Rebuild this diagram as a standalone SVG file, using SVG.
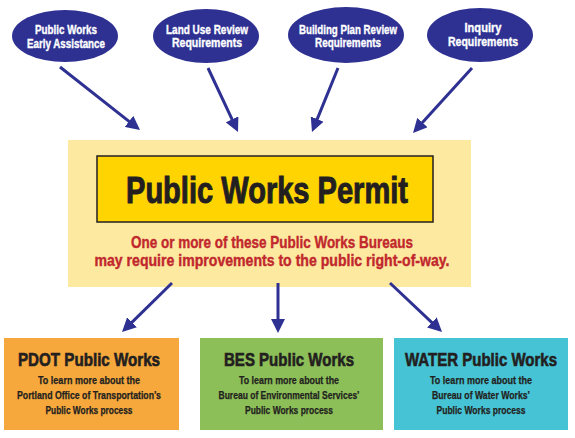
<svg xmlns="http://www.w3.org/2000/svg" width="575" height="438" viewBox="0 0 575 438">
<defs>
<style>
.ell{fill:#2e3192}
.et{fill:#fff;stroke:#fff;stroke-width:0.35px;font-family:"Liberation Sans Narrow","Liberation Sans",Arial,sans-serif;font-weight:bold;font-size:12px;text-anchor:middle}
.conn{stroke:#2e3192;stroke-width:3;fill:none;marker-end:url(#ah)}
.bt{fill:#231f20;stroke:#231f20;stroke-width:0.55px;font-family:"Liberation Sans Narrow","Liberation Sans",Arial,sans-serif;font-weight:bold;font-size:16px;text-anchor:middle}
.bs{fill:#231f20;stroke:#231f20;stroke-width:0.25px;font-family:"Liberation Sans Narrow","Liberation Sans",Arial,sans-serif;font-weight:bold;font-size:10.5px;text-anchor:middle}
.rt{fill:#c1272d;stroke:#c1272d;stroke-width:0.4px;font-family:"Liberation Sans Narrow","Liberation Sans",Arial,sans-serif;font-weight:bold;font-size:17px;text-anchor:middle}
</style>
<marker id="ah" markerWidth="14" markerHeight="14" refX="2" refY="7" orient="auto" markerUnits="userSpaceOnUse">
<path d="M0,0 L14,7 L0,14 z" fill="#2e3192"/>
</marker>
</defs>
<rect width="575" height="438" fill="#fff"/>
<g id="connectors">
<line class="conn" x1="60" y1="67" x2="130.6" y2="122.6"/>
<line class="conn" x1="208" y1="68" x2="232.9" y2="121.1"/>
<line class="conn" x1="338" y1="68" x2="316.5" y2="120.9"/>
<line class="conn" x1="472" y1="68" x2="421.1" y2="124.1"/>
</g>
<g id="permit">
<rect x="68" y="140" width="403" height="147" fill="#fde9a0"/>
<rect x="97" y="156" width="336" height="66" fill="#ffd400" stroke="#231f20" stroke-width="1.5"/>
<text x="267" y="203" fill="#231f20" stroke="#231f20" stroke-width="1" font-family="'Liberation Sans Narrow','Liberation Sans',Arial,sans-serif" font-weight="bold" font-size="36" text-anchor="middle" textLength="282" lengthAdjust="spacingAndGlyphs">Public Works Permit</text>
<text class="rt" x="272" y="248" textLength="282" lengthAdjust="spacingAndGlyphs">One or more of these Public Works Bureaus</text>
<text class="rt" x="272" y="266" textLength="355" lengthAdjust="spacingAndGlyphs">may require improvements to the public right-of-way.</text>
</g>
<g id="connectors-bottom">
<line class="conn" x1="172" y1="283" x2="130.6" y2="323.6"/>
<line class="conn" x1="278" y1="283" x2="278" y2="321"/>
<line class="conn" x1="390" y1="283" x2="433.3" y2="323.8"/>
</g>
<g id="n-early">
<ellipse class="ell" cx="65" cy="36" rx="53" ry="26"/>
<text class="et" x="66" y="34" textLength="62" lengthAdjust="spacingAndGlyphs">Public Works</text>
<text class="et" x="66" y="48" textLength="78" lengthAdjust="spacingAndGlyphs">Early Assistance</text>
</g>
<g id="n-landuse">
<ellipse class="ell" cx="206" cy="36" rx="53" ry="27"/>
<text class="et" x="207" y="34" textLength="82" lengthAdjust="spacingAndGlyphs">Land Use Review</text>
<text class="et" x="207" y="47" textLength="70" lengthAdjust="spacingAndGlyphs">Requirements</text>
</g>
<g id="n-building">
<ellipse class="ell" cx="346" cy="35" rx="58" ry="28"/>
<text class="et" x="348" y="34" textLength="98" lengthAdjust="spacingAndGlyphs">Building Plan Review</text>
<text class="et" x="348" y="47" textLength="66" lengthAdjust="spacingAndGlyphs">Requirements</text>
</g>
<g id="n-inquiry">
<ellipse class="ell" cx="480" cy="35" rx="53" ry="27"/>
<text class="et" x="483" y="32" textLength="37" lengthAdjust="spacingAndGlyphs">Inquiry</text>
<text class="et" x="483" y="46" textLength="70" lengthAdjust="spacingAndGlyphs">Requirements</text>
</g>
<g id="n-pdot">
<rect x="4" y="338" width="175" height="92" fill="#f6a83c"/>
<text class="bt" transform="translate(89,366) scale(1,1.15)" textLength="142" lengthAdjust="spacingAndGlyphs">PDOT Public Works</text>
<text class="bs" x="89" y="384" textLength="102" lengthAdjust="spacingAndGlyphs">To learn more about the</text>
<text class="bs" x="89" y="399" textLength="144" lengthAdjust="spacingAndGlyphs">Portland Office of Transportation’s</text>
<text class="bs" x="89" y="414" textLength="87" lengthAdjust="spacingAndGlyphs">Public Works process</text>
</g>
<g id="n-bes">
<rect x="200" y="338" width="183" height="92" fill="#8dbf58"/>
<text class="bt" transform="translate(289,366) scale(1,1.15)" textLength="130" lengthAdjust="spacingAndGlyphs">BES Public Works</text>
<text class="bs" x="289" y="384" textLength="100" lengthAdjust="spacingAndGlyphs">To learn more about the</text>
<text class="bs" x="289" y="399" textLength="141" lengthAdjust="spacingAndGlyphs">Bureau of Environmental Services’</text>
<text class="bs" x="289" y="414" textLength="88" lengthAdjust="spacingAndGlyphs">Public Works process</text>
</g>
<g id="n-water">
<rect x="394" y="338" width="174" height="92" fill="#46c4d6"/>
<text class="bt" transform="translate(481,366) scale(1,1.15)" textLength="152" lengthAdjust="spacingAndGlyphs">WATER Public Works</text>
<text class="bs" x="481" y="384" textLength="102" lengthAdjust="spacingAndGlyphs">To learn more about the</text>
<text class="bs" x="481" y="399" textLength="98" lengthAdjust="spacingAndGlyphs">Bureau of Water Works’</text>
<text class="bs" x="481" y="414" textLength="89" lengthAdjust="spacingAndGlyphs">Public Works process</text>
</g>
</svg>
